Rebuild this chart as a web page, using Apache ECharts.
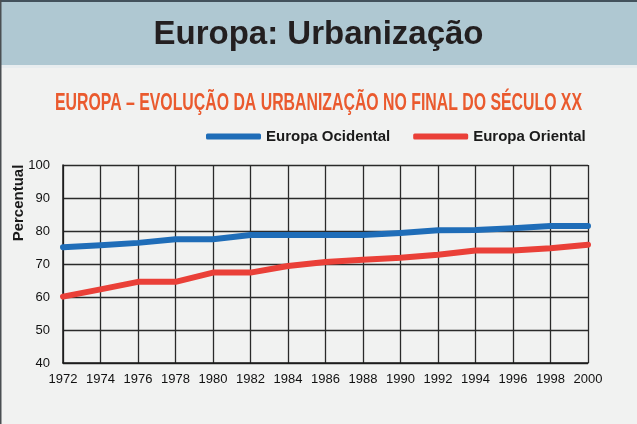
<!DOCTYPE html>
<html>
<head>
<meta charset="utf-8">
<script src="https://cdn.jsdelivr.net/npm/echarts@6/dist/echarts.min.js"></script>
<style>
html,body{margin:0;padding:0;background:#f1f2f1;}
#c{width:637px;height:424px;}
</style>
</head>
<body>
<div id="c"></div>
<script>
// ---- data ----
const years = [1972, 1974, 1976, 1978, 1980, 1982, 1984, 1986, 1988, 1990, 1992, 1994, 1996, 1998, 2000];
const europaOcidental = [75.1, 75.7, 76.4, 77.5, 77.5, 78.8, 78.8, 78.8, 78.8, 79.4, 80.2, 80.3, 80.8, 81.5, 81.5];
const europaOriental  = [60.1, 62.3, 64.6, 64.6, 67.4, 67.4, 69.4, 70.6, 71.3, 71.9, 72.8, 74.1, 74.1, 74.8, 75.8];
const seriesNames = ['Europa Ocidental', 'Europa Oriental'];
const yMin = 40, yMax = 100, yStep = 10;
const xMin = 1972, xMax = 2000, xStep = 2;
const mainTitle = 'Europa: Urbanização';
const subTitle = 'EUROPA – EVOLUÇÃO DA URBANIZAÇÃO NO FINAL DO SÉCULO XX';
const yAxisTitle = 'Percentual';

const FONT = '"Liberation Sans", Arial, Helvetica, sans-serif';

// measure subtitle to condense it horizontally
const cv = document.createElement('canvas').getContext('2d');
cv.font = 'bold 24px ' + FONT;
const subW = cv.measureText(subTitle).width;
const subScale = 527 / subW;

const chart = echarts.init(document.getElementById('c'), null, {renderer: 'canvas'});
chart.setOption({
  backgroundColor: '#f1f2f1',
  animation: false,
  grid: {left: 63, right: 49, top: 165, bottom: 61, containLabel: false},
  legend: {
    data: seriesNames,
    left: 201, top: 124,
    icon: 'roundRect',
    itemWidth: 55, itemHeight: 6,
    itemGap: 23,
    textStyle: {fontFamily: FONT, fontWeight: 'bold', fontSize: 15, color: '#1a1a1a'}
  },
  xAxis: {
    type: 'value', min: xMin, max: xMax, interval: xStep,
    axisLine: {show: true, lineStyle: {color: '#1a1a1a', width: 1.5}},
    axisTick: {show: false},
    axisLabel: {fontFamily: FONT, fontSize: 13, color: '#111', margin: 10, formatter: v => String(v)},
    splitLine: {show: true, lineStyle: {color: '#2a2a2a', width: 1.3}}
  },
  yAxis: {
    type: 'value', min: yMin, max: yMax, interval: yStep,
    axisLine: {show: true, lineStyle: {color: '#1a1a1a', width: 1.5}},
    axisTick: {show: false},
    axisLabel: {fontFamily: FONT, fontSize: 13, color: '#111', margin: 13},
    splitLine: {show: true, lineStyle: {color: '#2a2a2a', width: 1.3}}
  },
  series: [
    {
      name: seriesNames[0], type: 'line', showSymbol: false, symbol: 'none',
      data: years.map((y, i) => [y, europaOcidental[i]]),
      lineStyle: {color: '#1f6db8', width: 6, cap: 'round', join: 'round'},
      itemStyle: {color: '#1f6db8'}, z: 3
    },
    {
      name: seriesNames[1], type: 'line', showSymbol: false, symbol: 'none',
      data: years.map((y, i) => [y, europaOriental[i]]),
      lineStyle: {color: '#ea4038', width: 6, cap: 'round', join: 'round'},
      itemStyle: {color: '#ea4038'}, z: 3
    }
  ],
  graphic: [
    {type: 'rect', shape: {x: 0, y: 0, width: 637, height: 65}, style: {fill: '#afc8d2'}, z: -10},
    {type: 'rect', shape: {x: 0, y: 65, width: 637, height: 3}, style: {fill: '#e8edef'}, z: -10},
    {type: 'rect', shape: {x: 0, y: 0, width: 637, height: 2}, style: {fill: '#43525c'}, z: -9},
    {type: 'rect', shape: {x: 0, y: 0, width: 1.5, height: 424}, style: {fill: '#4a4f52'}, z: -9},
    {type: 'text', x: 318.5, y: 35, style: {text: mainTitle, x: 0, y: 0, align: 'center', verticalAlign: 'middle',
      font: 'bold 33px ' + FONT, fill: '#231f20'}},
    {type: 'text', x: 318.5, y: 103, scaleX: subScale, scaleY: 1, style: {text: subTitle, x: 0, y: 0, align: 'center', verticalAlign: 'middle',
      font: 'bold 24px ' + FONT, fill: '#ea5a2e'}},
    {type: 'text', x: 18.4, y: 203, rotation: Math.PI / 2, style: {text: yAxisTitle, x: 0, y: 0, align: 'center', verticalAlign: 'middle',
      font: 'bold 15px ' + FONT, fill: '#1a1a1a'}}
  ]
});
</script>
</body>
</html>
